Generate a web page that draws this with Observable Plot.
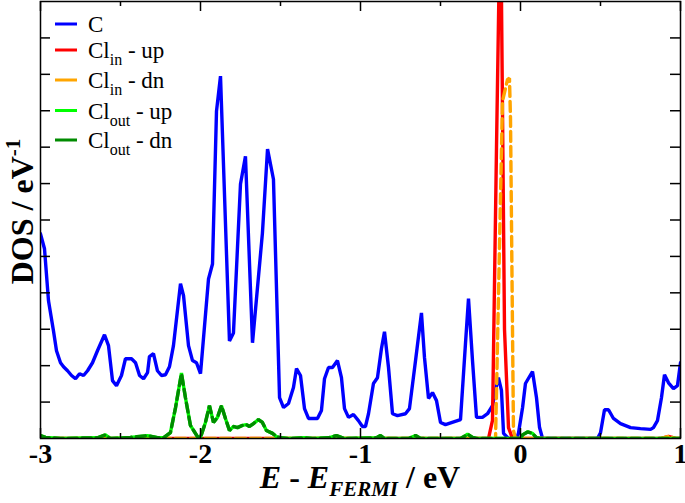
<!DOCTYPE html>
<html>
<head>
<meta charset="utf-8">
<script src="https://cdn.jsdelivr.net/npm/d3@7"></script>
<script src="https://cdn.jsdelivr.net/npm/@observablehq/plot@0.6"></script>
<style>
  body { margin: 0; background: #fff; }
  #chart { width: 685px; height: 503px; }
</style>
</head>
<body>
<div id="chart"></div>
<script>
// ---- data ----
const cE = [-3.000,-2.975,-2.950,-2.919,-2.900,-2.875,-2.856,-2.831,-2.806,-2.781,-2.756,-2.731,-2.706,-2.675,-2.644,-2.600,-2.575,-2.550,-2.525,-2.494,-2.469,-2.431,-2.406,-2.381,-2.356,-2.331,-2.319,-2.294,-2.269,-2.244,-2.219,-2.194,-2.169,-2.125,-2.106,-2.075,-2.050,-2.025,-2.000,-1.950,-1.925,-1.900,-1.875,-1.819,-1.794,-1.750,-1.719,-1.675,-1.613,-1.581,-1.544,-1.506,-1.481,-1.450,-1.419,-1.400,-1.375,-1.350,-1.325,-1.269,-1.244,-1.225,-1.200,-1.175,-1.144,-1.119,-1.100,-1.075,-1.044,-1.013,-0.988,-0.969,-0.950,-0.919,-0.894,-0.869,-0.850,-0.825,-0.800,-0.769,-0.719,-0.694,-0.656,-0.619,-0.600,-0.575,-0.550,-0.525,-0.500,-0.469,-0.375,-0.344,-0.325,-0.300,-0.275,-0.238,-0.206,-0.175,-0.144,-0.138,-0.119,-0.106,-0.075,-0.025,-0.013,0.013,0.031,0.075,0.100,0.119,0.138,0.481,0.500,0.525,0.550,0.581,0.625,0.688,0.750,0.813,0.831,0.856,0.881,0.900,0.925,0.956,0.981,1.000];
const cDOS = [5.62,5.21,3.78,2.96,2.41,2.08,1.97,1.86,1.73,1.64,1.78,1.73,1.86,2.08,2.41,2.85,2.55,1.59,1.45,1.73,2.19,2.19,2.08,1.73,1.64,1.81,2.25,2.33,1.86,1.73,1.75,1.97,2.55,4.25,3.92,2.55,2.14,2.08,1.78,4.38,4.79,8.99,9.95,2.68,2.90,6.99,7.75,2.63,5.64,7.95,7.12,1.12,0.85,0.96,1.40,1.92,1.73,0.82,0.55,0.55,0.77,1.64,1.95,1.95,2.14,1.67,0.82,0.58,0.66,0.49,0.33,0.33,0.68,1.51,1.67,2.47,2.93,1.95,0.68,0.63,0.68,0.82,2.14,3.45,2.22,1.10,1.26,1.04,0.44,0.38,0.52,2.60,3.84,2.14,0.58,0.58,0.68,0.90,1.59,1.67,1.32,0.14,0,0,0.14,0.85,1.51,1.84,1.12,0.30,0,0,0.16,0.79,0.79,0.55,0.41,0.30,0.27,0.25,0.30,0.49,1.12,1.75,1.53,1.37,1.45,2.08];

const clInUpE = [-3.000,-0.200,-0.175,-0.150,-0.125,-0.100,-0.075,-0.050,0.880,0.925,0.970,1.000];
const clInUpDOS = [0,0,0.5,8.0,15.0,3.0,0.3,0,0,0.06,0,0];

const clInDnE = [-3.000,-0.156,-0.1125,-0.081,-0.069,-0.0625,-0.044,-0.031,0.880,0.925,0.970,1.000];
const clInDnDOS = [0,0,9.26,9.86,9.89,8.79,0.22,0,0,0.06,0,0];

const clOutUpE = [-3.000,-2.969,-2.875,-2.644,-2.594,-2.563,-2.438,-2.331,-2.269,-2.231,-2.188,-2.156,-2.119,-2.094,-2.063,-2.019,-2.000,-1.969,-1.944,-1.919,-1.894,-1.869,-1.844,-1.819,-1.794,-1.769,-1.738,-1.713,-1.694,-1.669,-1.638,-1.613,-1.588,-1.550,-1.525,-1.500,-1.450,-1.350,-1.300,-1.200,-1.150,-1.100,-0.900,-0.875,-0.850,-0.700,-0.656,-0.625,-0.375,-0.350,-0.331,-0.300,-0.275,0.000,0.013,0.044,0.075,0.100,0.125,1.000];
const clOutUpDOS = [0.08,0.03,0,0.02,0.10,0,0.03,0.08,0.02,0.02,0.16,0.85,1.80,1.12,0.36,0.05,0.03,0.44,0.90,0.44,0.58,0.90,0.55,0.22,0.33,0.30,0.36,0.38,0.33,0.41,0.52,0.44,0.22,0.14,0.05,0.02,0,0.02,0,0.02,0.08,0,0.02,0.08,0,0,0.08,0,0,0.06,0.12,0.03,0,0,0.10,0.18,0.14,0.02,0,0];

const clOutDnE = [-3.000,-2.969,-2.875,-2.644,-2.594,-2.563,-2.438,-2.331,-2.269,-2.231,-2.188,-2.156,-2.119,-2.094,-2.063,-2.019,-2.000,-1.969,-1.944,-1.919,-1.894,-1.869,-1.844,-1.819,-1.794,-1.769,-1.738,-1.713,-1.694,-1.669,-1.638,-1.613,-1.588,-1.550,-1.525,-1.500,-1.450,-1.350,-1.300,-1.200,-1.150,-1.100,-0.900,-0.875,-0.850,-0.700,-0.656,-0.625,-0.375,-0.350,-0.331,-0.300,-0.275,0.000,0.013,0.044,0.075,0.100,0.125,1.000];
const clOutDnDOS = [0.08,0.03,0,0.02,0.10,0,0.03,0.08,0.02,0.02,0.16,0.85,1.78,1.12,0.36,0.05,0.03,0.44,0.90,0.44,0.58,0.90,0.55,0.22,0.33,0.30,0.36,0.38,0.33,0.41,0.52,0.44,0.22,0.14,0.05,0.02,0,0.02,0,0.02,0.08,0,0.02,0.08,0,0,0.08,0,0,0.06,0.12,0.03,0,0,0.10,0.18,0.14,0.02,0,0];

const xMajorTicks = [-3, -2, -1, 0, 1];
const xMinorTicks = [-2.5, -1.5, -0.5, 0.5];
const yTicks = [1, 2, 3, 4, 5, 6, 7, 8, 9, 10, 11];

const legendMain = ["C", "Cl", "Cl", "Cl", "Cl"];
const legendSub = ["", "in", "in", "out", "out"];
const legendTail = ["", " - up", " - dn", " - up", " - dn"];
const seriesColors = ["#0000ff", "#ff0000", "#ffa500", "#00ff00", "#008b00"];

// ---- build ----
const toRows = (E, D) => E.map((e, i) => ({E: e, DOS: D[i]}));
const W = 685, H = 503;
const mL = 40, mR = 5, mT = 1, mB = 65;
const innerW = W - mL - mR, innerH = H - mT - mB;
const serif = "'Liberation Serif', 'Times New Roman', serif";

const lineOpts = (color, extra = {}) => ({x: "E", y: "DOS", stroke: color, strokeWidth: 3.4, clip: true, strokeLinejoin: "miter", ...extra});

const plot = Plot.plot({
  width: W, height: H,
  marginLeft: mL, marginRight: mR, marginTop: mT, marginBottom: mB,
  style: {background: "white", overflow: "hidden"},
  x: {domain: [-3, 1], axis: null},
  y: {domain: [0, 12], axis: null},
  marks: [
    Plot.line(toRows(cE, cDOS), lineOpts(seriesColors[0])),
    Plot.line(toRows(clInUpE, clInUpDOS), lineOpts(seriesColors[1])),
    Plot.line(toRows(clInDnE, clInDnDOS), lineOpts(seriesColors[2], {strokeDasharray: "10,5"})),
    Plot.line(toRows(clOutUpE, clOutUpDOS), lineOpts(seriesColors[3])),
    Plot.line(toRows(clOutDnE, clOutDnDOS), lineOpts(seriesColors[4], {strokeDasharray: "9,5"})),
    Plot.frame({stroke: "black", strokeWidth: 1.5}),
    // bottom & top ticks (inside)
    Plot.ruleX(xMajorTicks, {x: d => d, insetTop: innerH - 10, stroke: "black", strokeWidth: 1.5}),
    Plot.ruleX(xMinorTicks, {x: d => d, insetTop: innerH - 5, stroke: "black", strokeWidth: 1.5}),
    Plot.ruleX(xMajorTicks, {x: d => d, insetBottom: innerH - 10, stroke: "black", strokeWidth: 1.5}),
    Plot.ruleX(xMinorTicks, {x: d => d, insetBottom: innerH - 5, stroke: "black", strokeWidth: 1.5}),
    // left & right ticks (inside)
    Plot.ruleY(yTicks, {y: d => d, insetRight: innerW - 10, stroke: "black", strokeWidth: 1.5}),
    Plot.ruleY(yTicks, {y: d => d, insetLeft: innerW - 10, stroke: "black", strokeWidth: 1.5}),
    // x tick labels
    Plot.text(xMajorTicks, {x: d => d, frameAnchor: "bottom", lineAnchor: "top", dy: 5,
      text: d => String(d), fontSize: 28, fontWeight: "bold", fontFamily: serif, fill: "black"})
  ]
});
document.getElementById("chart").appendChild(plot);

const svg = d3.select(plot);

// y axis title
const yt = svg.append("text")
  .attr("transform", `translate(33,${mT + innerH / 2 - 8}) rotate(-90)`)
  .attr("text-anchor", "middle")
  .attr("font-family", serif).attr("font-weight", "bold").attr("font-size", 32).attr("fill", "black");
yt.append("tspan").text("DOS / eV");
yt.append("tspan").attr("font-size", 21).attr("dy", -13).text("-1");

// x axis title
const xt = svg.append("text")
  .attr("x", mL + innerW / 2).attr("y", 488)
  .attr("text-anchor", "middle")
  .attr("font-family", serif).attr("font-weight", "bold").attr("font-size", 32).attr("fill", "black");
xt.append("tspan").attr("font-style", "italic").text("E");
xt.append("tspan").text(" - ");
xt.append("tspan").attr("font-style", "italic").text("E");
xt.append("tspan").attr("font-style", "italic").attr("font-size", 21).attr("dy", 8).text("FERMI");
xt.append("tspan").attr("dy", -8).text(" / eV");

// legend
const legendLineY = [24, 50, 80, 110.5, 140];
const legendBaseY = [32, 58, 88, 118.5, 148];
const lg = svg.append("g");
legendMain.forEach((name, i) => {
  lg.append("line").attr("x1", 55).attr("x2", 77).attr("y1", legendLineY[i]).attr("y2", legendLineY[i])
    .attr("stroke", seriesColors[i]).attr("stroke-width", 3);
  const t = lg.append("text").attr("x", 88).attr("y", legendBaseY[i])
    .attr("text-anchor", "start")
    .attr("font-family", serif).attr("font-size", 23).attr("fill", "black");
  t.append("tspan").text(name);
  if (legendSub[i]) {
    t.append("tspan").attr("font-size", 16).attr("dy", 7).text(legendSub[i]);
    t.append("tspan").attr("dy", -7).text(legendTail[i]);
  }
});
</script>
</body>
</html>
